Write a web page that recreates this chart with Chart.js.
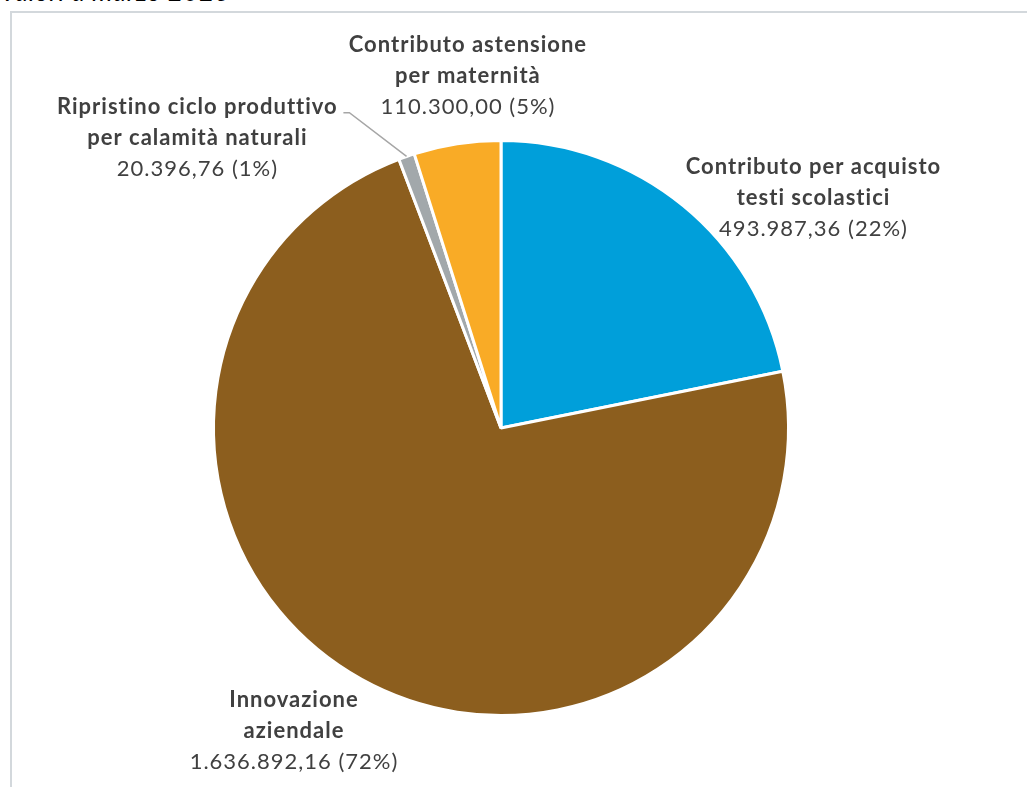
<!DOCTYPE html>
<html>
<head>
<meta charset="utf-8">
<script src="https://cdn.jsdelivr.net/npm/chart.js@4.4.0/dist/chart.umd.min.js"></script>
<style>
  html, body { margin: 0; padding: 0; background: #fff; overflow: hidden; }
  #wrap { position: relative; width: 1027px; height: 787px; }
  #title { position: absolute; left: 0; top: -22px; font: italic 26px Lato, sans-serif; line-height: 26px; color: #000; white-space: nowrap; letter-spacing: 0.5px; }
  #frame { position: absolute; left: 10px; top: 11px; right: -5px; bottom: -5px; border-left: 2px solid #d3d8dc; border-top: 2px solid #d3d8dc; }
  canvas { position: absolute; left: 0; top: 0; }
</style>
</head>
<body>
<div id="wrap">
  <div id="title">Valori a marzo 2023</div>
  <div id="frame"></div>
  <canvas id="pieChart" width="1027" height="787"></canvas>
</div>
<script>
// data, clockwise from 12 o'clock
const categories = [
  ['Contributo per acquisto', 'testi scolastici'],
  ['Innovazione', 'aziendale'],
  ['Ripristino ciclo produttivo', 'per calamità naturali'],
  ['Contributo astensione', 'per maternità']
];
const values = [493987.36, 1636892.16, 20396.76, 110300.00];
const colors = ['#009fda', '#8c5e1e', '#a2a8ab', '#f9ab26'];

// label placement relative to the pie centre, in units of radius
const labelPos = [[1.087, -0.80], [-0.72, 1.052], [-1.056, -1.01], [-0.115, -1.224]];

const total = values.reduce((a, b) => a + b, 0);

function fmt(v) {
  const parts = v.toFixed(2).split('.');
  parts[0] = parts[0].replace(/\B(?=(\d{3})+(?!\d))/g, '.');
  return parts.join(',');
}

const labelPlugin = {
  id: 'pieLabels',
  afterDraw(chart) {
    const ctx = chart.ctx;
    const arcs = chart.getDatasetMeta(0).data;
    ctx.save();
    ctx.textAlign = 'center';
    ctx.textBaseline = 'middle';
    ctx.letterSpacing = '1px';
    arcs.forEach((arc, i) => {
      const cx = arc.x, cy = arc.y, r = arc.outerRadius;
      const lx = cx + labelPos[i][0] * r;
      const ly = cy + labelPos[i][1] * r;
      const lines = categories[i];
      const pct = Math.round(values[i] / total * 100);
      ctx.fillStyle = '#404040';
      ctx.font = 'bold 22px Lato, sans-serif';
      ctx.fillText(lines[0], lx, ly - 31);
      ctx.fillText(lines[1], lx, ly);
      ctx.font = '22px Lato, sans-serif';
      ctx.fillText(fmt(values[i]) + ' (' + pct + '%)', lx, ly + 31);

      // leader line for the tiny slice
      if (values[i] / total < 0.02) {
        const mid = (arc.startAngle + arc.endAngle) / 2;
        const ex = cx + Math.cos(mid) * r;
        const ey = cy + Math.sin(mid) * r;
        const sx = lx + 146, sy = ly - 25;
        ctx.strokeStyle = '#a6a6a6';
        ctx.lineWidth = 1.5;
        ctx.beginPath();
        ctx.moveTo(sx, sy);
        ctx.lineTo(sx + 6, sy);
        ctx.lineTo(ex, ey);
        ctx.stroke();
      }
    });
    ctx.restore();
  }
};

new Chart(document.getElementById('pieChart').getContext('2d'), {
  type: 'pie',
  data: {
    labels: categories.map(c => c.join(' ')),
    datasets: [{
      data: values,
      backgroundColor: colors,
      borderColor: '#ffffff',
      borderWidth: 3
    }]
  },
  options: {
    responsive: false,
    animation: false,
    layout: { padding: { top: 139, bottom: 70, left: 212, right: 237 } },
    plugins: {
      legend: { display: false },
      tooltip: { enabled: false }
    }
  },
  plugins: [labelPlugin]
});
</script>
</body>
</html>
